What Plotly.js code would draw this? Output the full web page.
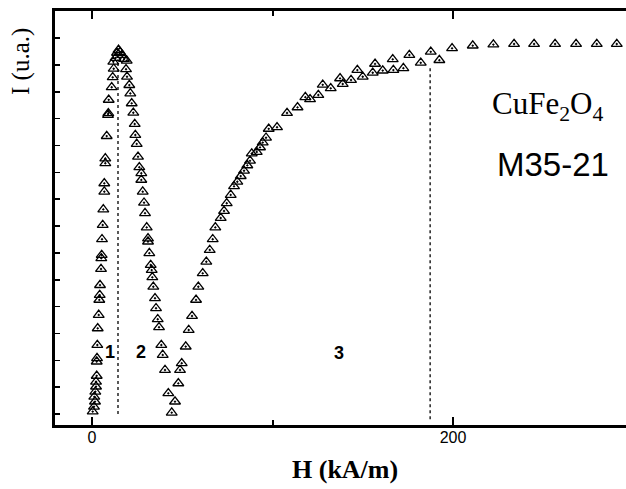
<!DOCTYPE html>
<html>
<head>
<meta charset="utf-8">
<script src="https://cdn.plot.ly/plotly-3.0.1.min.js"></script>
<style>html,body{margin:0;padding:0;background:#fff;overflow:hidden}</style>
</head>
<body>
<div id="chart" style="width:626px;height:489px"></div>
<script>
// Field H (kA/m)
const fieldH = [
  0.39, 1.11, 1.66, 1.27, 1.83, 2.22, 2.22, 2.60, 2.60, 2.77, 2.94, 3.16, 3.71, 4.04, 4.27, 4.43,
  4.99, 5.15, 5.37, 5.54, 5.93, 6.26, 6.81, 6.81, 7.37, 7.37, 8.14, 8.86, 9.03, 9.25, 10.91, 11.47,
  12.02, 11.80, 13.02, 13.85, 14.68, 15.51, 16.62,
  17.73, 19.22, 18.84, 19.39, 20.66, 21.22, 21.99, 22.88, 23.66, 23.99, 24.76, 25.48, 26.20, 27.31,
  27.31, 28.09, 28.81, 29.36, 30.30, 31.02, 31.02, 31.75, 32.52, 33.07, 33.41, 33.96, 34.90, 35.46,
  36.40, 37.12, 38.39, 39.17, 40.44, 42.27, 44.16,
  45.98, 47.81, 48.75, 49.70, 51.91, 53.57, 55.40, 57.62, 58.89, 61.33, 63.32, 65.21, 66.87, 68.31,
  71.30, 73.13, 74.63, 76.84, 78.67, 80.50, 82.38, 84.21, 86.04, 87.53, 88.48, 91.25, 93.07, 94.57,
  96.40, 97.89, 102.49, 108.03, 113.85, 118.17, 120.78, 125.37, 127.81, 132.24, 137.40, 138.89,
  143.49, 146.98, 149.97, 155.51, 156.79, 161.05, 166.59, 166.93, 172.47, 175.79, 182.11, 187.65,
  192.41, 199.45, 210.91, 222.33, 233.80, 244.88, 256.51, 268.14, 279.61, 290.69
];
// Intensity I (u.a.)
const intensity = [
  0.09, 0.27, 0.46, 0.64, 0.83, 1.02, 1.20, 1.42, 1.95, 2.08, 2.57, 3.19, 3.69, 4.25, 4.43, 4.80,
  5.40, 5.80, 5.92, 6.51, 7.04, 7.62, 8.28, 8.59, 9.34, 9.52, 10.35, 11.14, 11.20, 11.70, 12.17, 12.54,
  12.86, 13.12, 13.26, 13.45, 13.56, 13.48, 13.37,
  13.22, 13.16, 12.84, 12.56, 12.25, 11.94, 11.57, 11.22, 10.80, 10.39, 10.06, 9.58, 9.19, 8.97,
  8.72, 8.28, 7.87, 7.48, 6.95, 6.54, 6.42, 5.99, 5.55, 5.36, 5.09, 4.74, 4.31, 3.94,
  3.53, 3.23, 2.57, 2.20, 1.64, 0.77, 0.05,
  0.46, 1.14, 1.64, 1.89, 2.51, 3.13, 3.65, 4.25, 4.74, 5.24, 5.67, 6.11, 6.51, 6.95,
  7.30, 7.56, 7.85, 8.16, 8.48, 8.65, 8.86, 9.06, 9.26, 9.43, 9.70, 9.76, 9.93, 10.11,
  10.29, 10.62, 10.68, 11.21, 11.42, 11.80, 11.72, 11.88, 12.26, 12.13, 12.50, 12.29,
  12.44, 12.81, 12.56, 12.71, 13.04, 12.79, 13.21, 12.81, 12.88, 13.37, 13.08, 13.49,
  13.18, 13.62, 13.72, 13.76, 13.78, 13.78, 13.78, 13.78, 13.78, 13.78
];
const xTickVals = [0, 200];
const xTickText = ["0", "200"];
const yTickVals = [0,1,2,3,4,5,6,7,8,9,10,11,12,13,14];
const boundaryH = [14.4, 187.3];
const boundaryTop = [13.2, 12.9];
const boundaryBottom = [0, -0.2];
const regionLabels = ["1", "2", "3"];
const regionH = [10.0, 27.2, 136.8];
const regionI = [2.3, 2.3, 2.28];

const shapes = boundaryH.map((h, i) => ({
  type: 'line', xref: 'x', yref: 'y', x0: h, x1: h, y0: boundaryBottom[i], y1: boundaryTop[i],
  line: {color: '#000', width: 1.3, dash: 'dot'}, layer: 'below'
}));

function px2paperX(p) { return (p - 55) / 571; }
function px2paperY(p) { return (425 - p) / 414; }

const annotations = regionLabels.map((t, i) => ({
  text: '<b>' + t + '</b>', x: regionH[i], y: regionI[i], xref: 'x', yref: 'y', showarrow: false,
  xanchor: 'center', yanchor: 'middle',
  font: {family: 'Liberation Sans, Arial', size: 18, color: '#000'}
}));
annotations.push({
  text: 'CuFe<sub>2</sub>O<sub>4</sub>', xref: 'paper', yref: 'paper',
  x: px2paperX(547), y: px2paperY(106), xanchor: 'center', yanchor: 'middle', showarrow: false,
  font: {family: 'Liberation Serif, Times New Roman', size: 31, color: '#000'}
});
annotations.push({
  text: 'M35-21', xref: 'paper', yref: 'paper',
  x: px2paperX(553), y: px2paperY(164), xanchor: 'center', yanchor: 'middle', showarrow: false,
  font: {family: 'Liberation Sans, Arial', size: 33, color: '#000'}
});
annotations.push({
  text: 'I (u.a.)', xref: 'paper', yref: 'paper', textangle: -90,
  x: px2paperX(21), y: px2paperY(62), xanchor: 'center', yanchor: 'middle', showarrow: false,
  font: {family: 'Liberation Serif, Times New Roman', size: 25, color: '#000'}
});
annotations.push({
  text: '<b>H (kA/m)</b>', xref: 'paper', yref: 'paper',
  x: px2paperX(345), y: px2paperY(469), xanchor: 'center', yanchor: 'middle', showarrow: false,
  font: {family: 'Liberation Serif, Times New Roman', size: 26, color: '#000'}
});

const trace = {
  x: fieldH, y: intensity, type: 'scatter', mode: 'markers',
  marker: {symbol: 'triangle-up-open-dot', size: 9.5, color: '#000', line: {width: 1.3, color: '#000'}},
  hoverinfo: 'skip', cliponaxis: false
};

const layout = {
  width: 626, height: 489,
  margin: {l: 55, r: 0, t: 11, b: 64},
  paper_bgcolor: '#fff', plot_bgcolor: '#fff',
  showlegend: false,
  xaxis: {
    range: [-20.5, 295.8], showgrid: false, zeroline: false,
    showline: true, linecolor: '#000', linewidth: 3, mirror: 'ticks',
    ticks: 'inside', ticklen: 8, tickwidth: 2, tickcolor: '#000',
    tickvals: xTickVals, ticktext: xTickText,
    minor: {dtick: 100, tick0: 0, ticks: 'inside', ticklen: 5, tickwidth: 2, tickcolor: '#000', showgrid: false},
    tickfont: {family: 'Liberation Sans, Arial', size: 16, color: '#000'},
    ticklabelstandoff: -4
  },
  yaxis: {
    range: [-0.41, 15.01], showgrid: false, zeroline: false,
    showline: true, linecolor: '#000', linewidth: 3, mirror: false,
    ticks: 'inside', ticklen: 5, tickwidth: 1.5, tickcolor: '#000',
    tickvals: yTickVals, showticklabels: false
  },
  shapes: shapes,
  annotations: annotations
};

Plotly.newPlot('chart', [trace], layout, {staticPlot: true, displayModeBar: false});
</script>
</body>
</html>
